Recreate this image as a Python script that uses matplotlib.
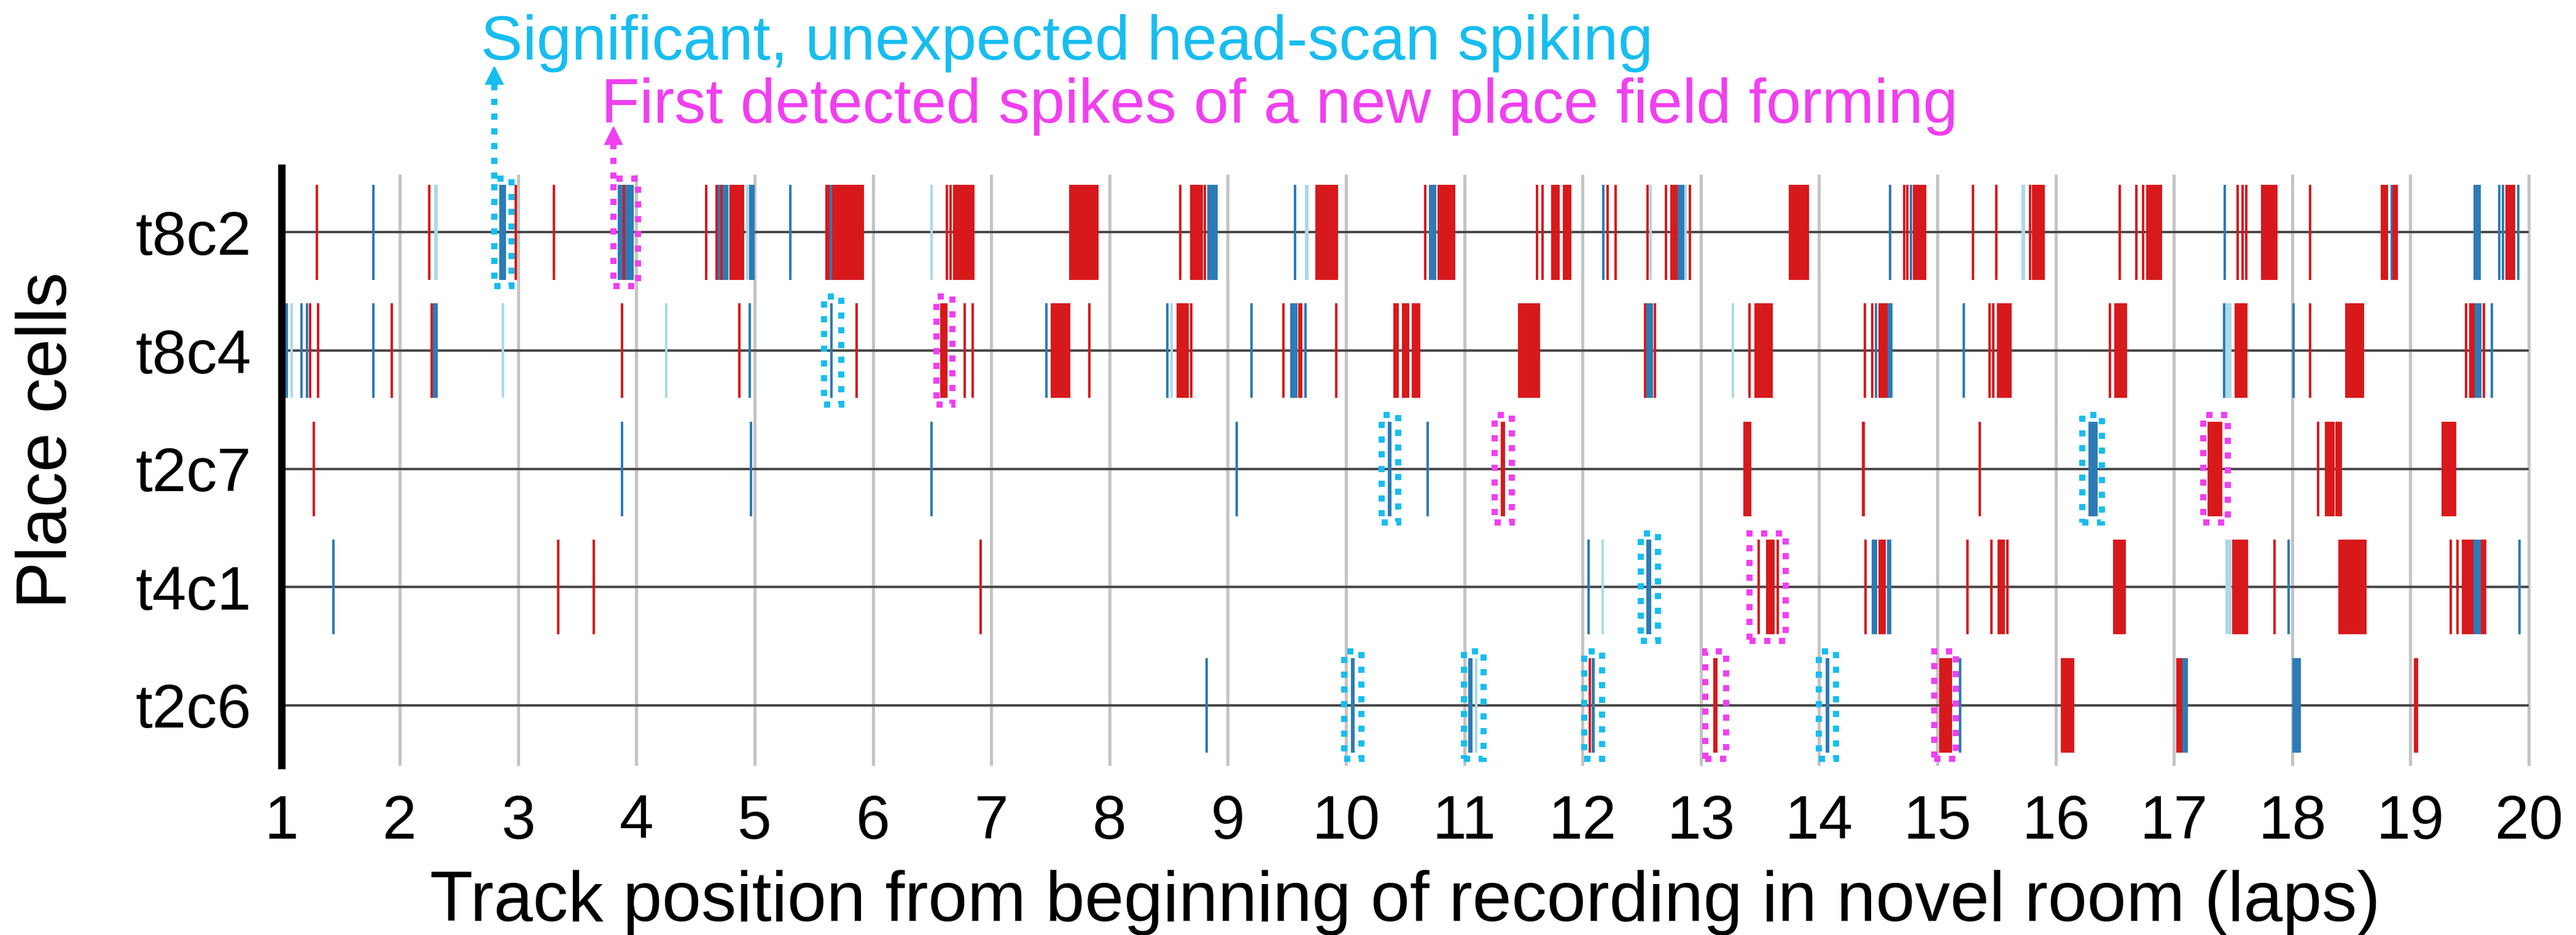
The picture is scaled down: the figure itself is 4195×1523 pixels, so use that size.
import matplotlib
matplotlib.use('Agg')
import matplotlib.pyplot as plt
from matplotlib.patches import Rectangle

plt.rcParams['font.family'] = ['Liberation Sans', 'DejaVu Sans']

# ---------------- data ----------------
cells = ['t8c2', 't8c4', 't2c7', 't4c1', 't2c6']
lap_ticks = list(range(1, 21))

t8c2_red = [1.30, 2.25, 2.978, 3.30, 3.892,
            4.59, 4.678, 4.718,
            4.80, 4.81, 4.822, 4.835, 4.848, 4.86, 4.873, 4.886, 4.90,
            5.607, 5.622, 5.665, 5.68, 5.695, 5.71, 5.725, 5.74, 5.755, 5.77, 5.785,
            5.80, 5.815, 5.83, 5.845, 5.86, 5.875, 5.89, 5.905, 5.915,
            6.625, 6.655, 6.69, 6.703, 6.716, 6.73, 6.743, 6.756, 6.77, 6.783, 6.796,
            6.81, 6.823, 6.836, 6.846,
            7.67, 7.683, 7.696, 7.71, 7.723, 7.736, 7.75, 7.763, 7.776, 7.79, 7.803,
            7.816, 7.83, 7.843, 7.856, 7.87, 7.883, 7.895,
            8.60, 8.69, 8.703, 8.716, 8.73, 8.743, 8.756, 8.77, 8.782, 8.807,
            9.752, 9.765, 9.778, 9.791, 9.804, 9.817, 9.83, 9.843, 9.862, 9.875, 9.888,
            9.901, 9.914, 9.922,
            10.67, 10.785, 10.798, 10.811, 10.824, 10.837, 10.85, 10.863, 10.876,
            10.889, 10.902, 10.915,
            11.615, 11.66, 11.745, 11.758, 11.771, 11.784, 11.797, 11.845, 11.858,
            11.871, 11.884, 11.897,
            12.213, 12.28, 12.547, 12.707, 12.75, 12.77, 12.794, 12.91,
            13.755, 13.768, 13.781, 13.794, 13.807, 13.82, 13.833, 13.846, 13.859,
            13.872, 13.885, 13.898, 13.906,
            14.72, 14.745, 14.805, 14.818, 14.831, 14.844, 14.857, 14.87, 14.883, 14.896,
            15.30, 15.50, 15.785, 15.81, 15.823, 15.836, 15.849, 15.862, 15.875, 15.888, 15.898,
            16.54, 16.68, 16.74, 16.775, 16.788, 16.801, 16.814, 16.827, 16.84, 16.853,
            16.866, 16.879, 16.888,
            17.54, 17.58, 17.61, 17.745, 17.758, 17.771, 17.784, 17.797, 17.81, 17.823,
            17.836, 17.849, 17.862, 17.868,
            18.15, 18.76, 18.773, 18.786, 18.80, 18.86, 18.873, 18.886,
            19.815, 19.828, 19.841, 19.854, 19.867, 19.877]
t8c2_blue = [1.775, 2.85, 2.862, 2.875, 2.888,
             3.855, 3.868, 3.88, 3.905, 3.918, 3.93, 3.943, 3.955, 3.965,
             4.69, 4.703, 4.716, 4.73, 4.743, 4.756, 4.766,
             4.962, 4.975, 4.988, 5.30, 5.645,
             8.835, 8.848, 8.861, 8.874, 8.887, 8.90, 8.907,
             9.57, 10.71, 10.725, 10.74, 10.755,
             12.175, 12.812, 12.826, 12.84, 12.852,
             14.60, 14.775, 17.43, 18.84,
             19.545, 19.558, 19.571, 19.584, 19.75, 19.78, 19.91]
t8c2_light = [2.30, 2.312, 4.78, 4.79, 4.936, 4.946, 6.495, 9.662, 9.675,
              12.577, 12.872, 15.722, 15.734]

t8c4_red = [1.239, 1.31, 1.933, 2.27, 3.88, 4.87, 5.86,
            6.58, 6.594, 6.608, 6.622, 6.776, 6.845,
            7.515, 7.528, 7.541, 7.554, 7.567, 7.58, 7.593, 7.606, 7.619, 7.632,
            7.645, 7.656, 7.83,
            8.575, 8.588, 8.601, 8.614, 8.627, 8.64, 8.653, 8.662, 8.69,
            9.473, 9.605, 9.62, 9.917,
            10.41, 10.425, 10.438, 10.485, 10.498, 10.511, 10.526, 10.565, 10.578,
            10.591, 10.604, 10.617,
            11.465, 11.478, 11.491, 11.504, 11.517, 11.53, 11.543, 11.556, 11.569,
            11.582, 11.595, 11.608, 11.62, 11.628,
            12.53, 12.61, 13.41, 13.465, 13.478, 13.492,
            13.515, 13.528, 13.541, 13.554, 13.567, 13.58, 13.593, 13.60,
            14.386, 14.45, 14.51, 14.523, 14.536, 14.549, 14.562, 14.57,
            15.44, 15.475, 15.515, 15.528, 15.541, 15.554, 15.567, 15.58, 15.593,
            15.606, 15.618,
            16.46, 16.505, 16.518, 16.531, 16.544, 16.557, 16.57, 16.583, 16.593,
            17.525, 17.538, 17.551, 17.564, 17.577, 17.59, 17.603, 17.61,
            18.15, 18.46, 18.473, 18.486, 18.499, 18.512, 18.525, 18.538, 18.551,
            18.564, 18.577, 18.59, 18.598,
            19.47, 19.505, 19.518, 19.532, 19.62]
t8c4_blue = [1.043, 1.168, 1.213, 1.775, 2.282, 2.296, 2.31, 4.96, 5.65,
             7.464, 8.49, 9.20, 9.54, 9.553, 9.566, 9.58, 9.656,
             12.545, 12.558, 12.571, 12.584,
             14.48, 14.585, 14.598, 14.61, 15.225, 17.424, 18.01,
             19.55, 19.563, 19.576, 19.588, 19.69]
t8c4_light = [1.083, 2.87, 4.25, 8.525, 13.27, 17.445, 17.458, 17.47, 17.478]

t2c7_red = [1.27, 11.32, 11.332,
            13.37, 13.383, 13.396, 13.41, 13.418, 14.37, 14.378, 15.36,
            17.295, 17.31, 17.325, 17.34, 17.355, 17.37, 17.385, 17.40,
            18.217, 18.285, 18.298, 18.311, 18.324, 18.337, 18.347,
            18.375, 18.388, 18.40, 18.413,
            19.275, 19.288, 19.301, 19.314, 19.327, 19.34, 19.353, 19.366, 19.376]
t2c7_blue = [3.88, 4.97, 6.495, 9.078, 10.365, 10.375, 10.69,
             16.288, 16.30, 16.312, 16.324, 16.336, 16.345]
t2c7_light = []

t4c1_red = [3.336, 3.64, 6.91,
            13.49, 13.56, 13.585, 13.60, 13.615, 13.65,
            14.395, 14.51, 14.525, 14.54, 14.555,
            15.257, 15.456, 15.52, 15.533, 15.546, 15.56, 15.59,
            16.495, 16.51, 16.525, 16.54, 16.555, 16.57, 16.585,
            17.50, 17.525, 17.538, 17.551, 17.564, 17.577, 17.59, 17.603, 17.615,
            17.85,
            18.40, 18.413, 18.426, 18.439, 18.452, 18.465, 18.478, 18.491, 18.504,
            18.517, 18.53, 18.543, 18.556, 18.569, 18.582, 18.595, 18.608, 18.62,
            19.34, 19.40, 19.445, 19.458, 19.471, 19.484, 19.497, 19.51, 19.522,
            19.605, 19.618, 19.632]
t4c1_blue = [1.436, 12.05, 12.55, 12.56, 12.572,
             14.455, 14.468, 14.482, 14.585, 14.598, 17.97,
             19.535, 19.548, 19.561, 19.574, 19.584, 19.92]
t4c1_light = [12.17, 17.445, 17.458, 17.47, 17.478]

t2c6_red = [12.06, 13.115, 13.13,
            15.025, 15.038, 15.051, 15.064, 15.077, 15.09, 15.103, 15.115,
            16.055, 16.068, 16.081, 16.094, 16.107, 16.12, 16.133, 16.145,
            17.03, 17.045, 17.06, 19.04, 19.055]
t2c6_blue = [8.823, 10.05, 10.063, 11.045, 11.058, 12.085, 12.095,
             14.068, 14.078, 15.19, 17.08, 17.095, 17.11,
             18.01, 18.023, 18.036, 18.049, 18.062]
t2c6_light = [11.10]

# dotted boxes: (cell, left lap, right lap)
cyan_boxes = [('t8c2', 2.796, 2.944), ('t8c4', 5.586, 5.734),
              ('t2c7', 10.30, 10.44), ('t2c7', 16.226, 16.394),
              ('t4c1', 12.49, 12.64),
              ('t2c6', 9.986, 10.13), ('t2c6', 10.996, 11.164),
              ('t2c6', 12.016, 12.164), ('t2c6', 13.996, 14.144)]
magenta_boxes = [('t8c2', 3.806, 4.014), ('t8c4', 6.536, 6.674),
                 ('t2c7', 11.256, 11.40), ('t2c7', 17.246, 17.454),
                 ('t4c1', 13.41, 13.715),
                 ('t2c6', 13.036, 13.214), ('t2c6', 14.976, 15.154)]

spikes = {
    't8c2': (t8c2_light, t8c2_blue, t8c2_red),
    't8c4': (t8c4_light, t8c4_blue, t8c4_red),
    't2c7': (t2c7_light, t2c7_blue, t2c7_red),
    't4c1': (t4c1_light, t4c1_blue, t4c1_red),
    't2c6': (t2c6_light, t2c6_blue, t2c6_red),
}

# ---------------- style ----------------
RED = '#d7191c'
BLUE = '#2c7bb6'
LIGHT = '#abd9e9'
CYAN = '#17bdf0'
MAGENTA = '#f03ff0'
ROWLINE = '#4a4a4a'
GRID = '#c4c4c4'

W, H, DPI = 4195, 1523, 150
fig = plt.figure(figsize=(W / DPI, H / DPI), dpi=DPI)
x_left, x_right = 458.6, 4118.0
y_top, y_bot = 274.5, 1247.0
ax = fig.add_axes([x_left / W, (H - y_bot) / H, (x_right - x_left) / W, (y_bot - y_top) / H])
ax.set_xlim(1, 20)
ax.set_ylim(0.49, 5.54)

ypos = {c: len(cells) - i for i, c in enumerate(cells)}

# grid lines
ax.vlines(lap_ticks[1:], 0.49, 5.49, colors=GRID, lw=2.4, zorder=1, clip_on=False)
# row lines
for c in cells:
    ax.hlines(ypos[c], 1, 20, colors=ROWLINE, lw=1.9, zorder=2)

# spikes
half = 0.40
for c in cells:
    light, blue, red = spikes[c]
    y = ypos[c]
    for xs, col in ((light, LIGHT), (blue, BLUE), (red, RED)):
        if xs:
            ax.vlines(xs, y - half, y + half, colors=col, lw=1.9, zorder=3)

# dotted boxes
bh = 0.455
dash = (0, (1.0, 1.4))
for boxes, col in ((cyan_boxes, CYAN), (magenta_boxes, MAGENTA)):
    for c, x0, x1 in boxes:
        y = ypos[c]
        ax.add_patch(Rectangle((x0, y - bh), x1 - x0, 2 * bh, fill=False,
                               edgecolor=col, lw=4.8, linestyle=dash, zorder=5,
                               clip_on=False))

# dotted arrows pointing to the annotation texts
cy_x, cy_tip = cyan_boxes[0][1], 6.384
mg_x, mg_tip = magenta_boxes[0][1], 5.875
for xa, tip, col in ((cy_x, cy_tip, CYAN), (mg_x, mg_tip, MAGENTA)):
    ax.plot([xa, xa], [5 + bh, tip - 0.06], color=col, lw=4.8, linestyle=dash,
            clip_on=False, zorder=5)
    ax.plot([xa], [tip - 0.055], marker='^', ms=13, color=col, mec=col,
            clip_on=False, zorder=6)

# spines & ticks
for s in ('top', 'right', 'bottom'):
    ax.spines[s].set_visible(False)
ax.spines['left'].set_linewidth(5.8)
ax.spines['left'].set_color('black')
ax.set_xticks(lap_ticks)
ax.set_xticklabels([str(v) for v in lap_ticks])
ax.set_yticks([ypos[c] for c in cells])
ax.set_yticklabels(cells)
ax.tick_params(axis='x', length=0, pad=22, labelsize=48)
ax.tick_params(axis='y', length=0, pad=23.5, labelsize=48)

# labels
fig.text((x_left + x_right) / 2 / W, (H - 1500) / H,
         'Track position from beginning of recording in novel room (laps)',
         ha='center', va='baseline', fontsize=55)
fig.text(79 / W, 1 - 717 / H, 'Place cells', rotation=90, ha='center', va='center',
         fontsize=55)
fig.text(783 / W, (H - 97) / H, 'Significant, unexpected head-scan spiking',
         color=CYAN, fontsize=49, ha='left', va='baseline')
fig.text(979 / W, (H - 200) / H, 'First detected spikes of a new place field forming',
         color=MAGENTA, fontsize=49, ha='left', va='baseline')

fig.savefig('out.png', dpi=DPI, facecolor='white')
